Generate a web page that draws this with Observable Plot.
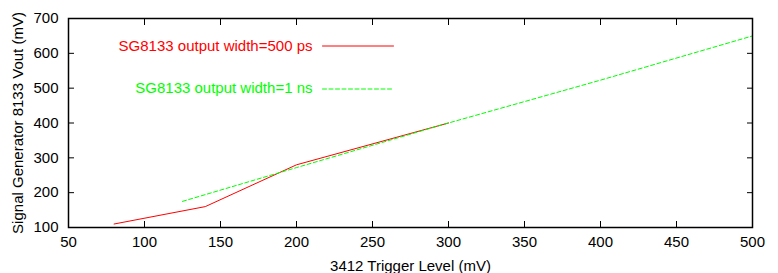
<!DOCTYPE html>
<html>
<head>
<meta charset="utf-8">
<script src="https://cdn.jsdelivr.net/npm/d3@7"></script>
<script src="https://cdn.jsdelivr.net/npm/@observablehq/plot@0.6"></script>
<style>
  html, body { margin: 0; padding: 0; background: #fff; }
  svg { font-family: "Liberation Sans", Arial, sans-serif; }
</style>
</head>
<body>
<div id="chart"></div>
<script>
// Series: SG8133 output width = 500 ps (red, solid)
const ps500X = [80, 140, 200, 300];
const ps500Y = [110, 160, 280, 400];
// Series: SG8133 output width = 1 ns (green, dashed)
const ns1X = [125, 200, 300, 400, 500];
const ns1Y = [175, 272, 400, 523, 650];

const xTicks = [50, 100, 150, 200, 250, 300, 350, 400, 450, 500];
const yTicks = [100, 200, 300, 400, 500, 600, 700];

const label500 = "SG8133 output width=500 ps";
const label1ns = "SG8133 output width=1 ns";
const xLabel = "3412 Trigger Level (mV)";
const yLabel = "Signal Generator 8133 Vout (mV)";

const red = "#ff0000";
const green = "#00ff00";

const ps500 = ps500X.map((x, i) => ({x, y: ps500Y[i]}));
const ns1 = ns1X.map((x, i) => ({x, y: ns1Y[i]}));

const lineShape = {draw(ctx, l) { ctx.moveTo(0, 0); ctx.lineTo(0, -l); }};
const FS = 15;

const chart = Plot.plot({
  width: 778,
  height: 273,
  marginLeft: 68,
  marginRight: 26,
  marginTop: 18,
  marginBottom: 46,
  style: {fontSize: FS + "px", fontFamily: "'Liberation Sans', Arial, sans-serif", color: "#000", background: "#fff"},
  x: {domain: [50, 500]},
  y: {domain: [100, 700]},
  marks: [
    // tick labels
    Plot.axisX(xTicks, {anchor: "bottom", tickSize: 0, tickPadding: 9, fontSize: FS, label: null}),
    Plot.axisY(yTicks, {anchor: "left", tickSize: 0, tickPadding: 10, fontSize: FS, label: null}),
    // inward ticks on all sides
    Plot.axisX(xTicks, {anchor: "bottom", tickSize: 6, dy: -6, fill: "none", label: null}),
    Plot.axisX(xTicks, {anchor: "top", tickSize: 6, dy: 6, fill: "none", label: null}),
    Plot.axisY(yTicks, {anchor: "left", tickSize: 6, dx: 6, fill: "none", label: null}),
    Plot.axisY(yTicks, {anchor: "right", tickSize: 6, dx: -6, fill: "none", label: null}),
    // data
    Plot.line(ps500, {x: "x", y: "y", stroke: red, strokeWidth: 1}),
    Plot.line(ns1, {x: "x", y: "y", stroke: green, strokeWidth: 1, strokeDasharray: "4,2.5"}),
    // legend
    Plot.text([label500], {frameAnchor: "top-left", dx: 244, dy: 28, text: d => d, textAnchor: "end", lineAnchor: "middle", fill: red, fontSize: FS}),
    Plot.vector([0], {frameAnchor: "top-left", dx: 254, dy: 27.5, length: 71, rotate: 90, anchor: "start", shape: lineShape, stroke: red, strokeWidth: 1}),
    Plot.text([label1ns], {frameAnchor: "top-left", dx: 244, dy: 70, text: d => d, textAnchor: "end", lineAnchor: "middle", fill: green, fontSize: FS}),
    Plot.vector([0], {frameAnchor: "top-left", dx: 254, dy: 70.5, length: 71, rotate: 90, anchor: "start", shape: lineShape, stroke: green, strokeWidth: 1, strokeDasharray: "4,2.5"}),
    // axis titles
    Plot.text([xLabel], {frameAnchor: "bottom", dy: 39, text: d => d, textAnchor: "middle", lineAnchor: "middle", fill: "#000", fontSize: FS}),
    Plot.text([yLabel], {frameAnchor: "left", dx: -50, dy: 0, rotate: -90, text: d => d, textAnchor: "middle", lineAnchor: "middle", fill: "#000", fontSize: FS}),
    Plot.frame({stroke: "#000", strokeWidth: 1.5})
  ]
});
document.getElementById("chart").appendChild(chart);
</script>
</body>
</html>
